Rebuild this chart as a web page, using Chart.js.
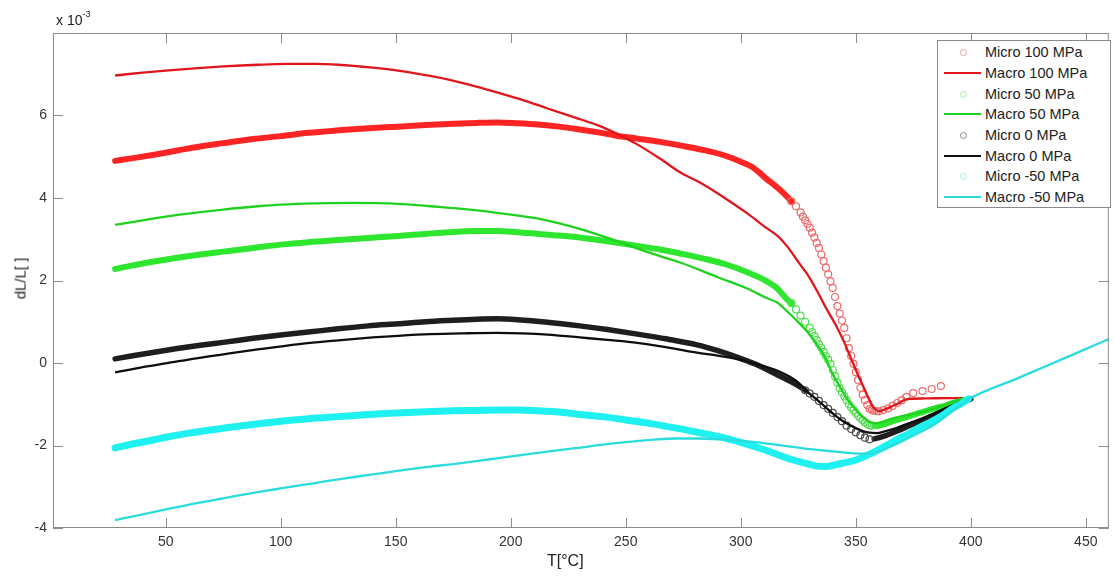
<!DOCTYPE html>
<html>
<head>
<meta charset="utf-8">
<title>dL/L vs T</title>
<script src="https://cdn.jsdelivr.net/npm/chart.js@4/dist/chart.umd.min.js"></script>
<style>
  body { margin: 0; background: #fff; font-family: 'Liberation Sans', Arial, sans-serif; }
  #wrap { position: relative; width: 1114px; height: 577px; }
  .lbl { position: absolute; color: #222; white-space: nowrap; }
  #legend { position: absolute; left: 937px; top: 40px; width: 174px; height: 168px;
            border: 1px solid #8a8a8a; background: #fff; padding-top: 1px; box-sizing: border-box; }
  .row { height: 20.7px; display: flex; align-items: center; font-size: 14.5px; color: #222; }
  .sw { position: relative; width: 43px; height: 20px; flex: none; }
</style>
</head>
<body>
<div id="wrap">
  <canvas id="myChart"></canvas>
  <div class="lbl" style="left:56px; top:11px; font-size:14px;">x 10<sup style="font-size:9px; position:relative; top:-2px;">-3</sup></div>
  <div class="lbl" style="left:547px; top:552px; font-size:16px;">T[°C]</div>
  <div class="lbl" style="left:-12px; top:270px; font-size:15px; transform: rotate(-90deg); width:64px; text-align:center;">dL/L[ ]</div>
  <div id="legend"></div>
</div>
<script>
// eksen ayarlari
const xTickValues = [50, 100, 150, 200, 250, 300, 350, 400, 450];
const yTickValues = [-4, -2, 0, 2, 4, 6];

// Micro 100 MPa
const micro100T = [28, 35, 45, 55, 65, 75, 88, 100, 112, 125, 138, 151, 163, 175, 185, 194, 203, 212, 221, 230,
    238, 246, 255, 265, 274, 284, 293, 300, 305, 308, 311, 314, 316, 318, 320, 322, 324,
    326, 327, 328, 329, 330, 331, 332, 333, 334, 335, 336, 337, 338, 339, 340, 341, 342, 343, 344, 345,
    346, 347, 348, 349, 350, 351, 352, 353, 354, 355, 356, 357, 358, 359, 360, 362, 364, 366, 368, 370,
    372, 375, 379, 383, 387];
const micro100 = [4.9, 4.96, 5.05, 5.15, 5.25, 5.33, 5.43, 5.5, 5.58, 5.64, 5.69, 5.73, 5.77, 5.8, 5.82, 5.83, 5.81, 5.78, 5.73, 5.66,
    5.59, 5.51, 5.44, 5.36, 5.27, 5.16, 5.03, 4.88, 4.75, 4.62, 4.47, 4.34, 4.25, 4.15, 4.04, 3.92, 3.8,
    3.65, 3.55, 3.46, 3.37, 3.28, 3.16, 3.04, 2.91, 2.79, 2.63, 2.47, 2.31, 2.15, 1.98, 1.82, 1.6, 1.38, 1.2, 1.03, 0.85,
    0.6, 0.36, 0.17, -0.02, -0.22, -0.41, -0.6, -0.77, -0.9, -1.02, -1.11, -1.14, -1.16, -1.17, -1.17, -1.14, -1.1, -1.04, -0.97, -0.9,
    -0.82, -0.73, -0.68, -0.63, -0.56];

// Macro 100 MPa
const macro100T = [28, 40, 50, 64, 75, 90, 103, 115, 125, 140, 151, 165, 173, 185, 194, 205, 216, 228, 238, 246,
    255, 265, 274, 283, 293, 303, 311, 316, 320, 325, 330, 334, 337, 341, 345, 348, 352, 355, 358, 360,
    363, 367, 373, 380, 390, 400];
const macro100 = [6.97, 7.04, 7.09, 7.15, 7.19, 7.23, 7.25, 7.25, 7.23, 7.16, 7.09, 6.96, 6.87, 6.7, 6.56, 6.38, 6.17, 5.95, 5.76, 5.56,
    5.3, 4.95, 4.61, 4.35, 4.0, 3.62, 3.28, 3.08, 2.84, 2.45, 2.06, 1.66, 1.34, 0.95, 0.5, 0.1, -0.42, -0.78, -1.1, -1.17,
    -1.12, -1.02, -0.87, -0.86, -0.85, -0.85];

// Micro 50 MPa
const micro50T = [28, 35, 45, 55, 65, 75, 88, 100, 112, 125, 138, 151, 163, 173, 185, 194, 203, 212, 221, 230,
    242, 255, 265, 274, 284, 293, 302, 311, 316, 320, 322, 324, 326, 328, 330, 331, 332, 333, 334, 335,
    336, 337, 338, 339, 340, 341, 342, 343, 344, 345, 346, 347, 348, 349, 350, 351, 352, 353, 354, 355,
    356, 357, 358, 360, 362, 364, 366, 369, 372, 376, 380, 385, 389, 392, 396, 399];
const micro50 = [2.28, 2.36, 2.46, 2.55, 2.63, 2.7, 2.79, 2.87, 2.93, 2.98, 3.03, 3.08, 3.13, 3.17, 3.2, 3.2, 3.17, 3.13, 3.09, 3.04,
    2.95, 2.84, 2.75, 2.65, 2.53, 2.4, 2.22, 1.99, 1.8, 1.55, 1.45, 1.3, 1.15, 1.0, 0.85, 0.75, 0.65, 0.56, 0.46, 0.37,
    0.27, 0.17, 0.08, -0.02, -0.17, -0.32, -0.47, -0.61, -0.71, -0.81, -0.9, -1.0, -1.08, -1.15, -1.21, -1.28, -1.34, -1.39, -1.44, -1.48,
    -1.51, -1.52, -1.53, -1.52, -1.49, -1.45, -1.41, -1.36, -1.31, -1.24, -1.17, -1.09, -1.03, -0.97, -0.92, -0.87];

// Macro 50 MPa
const macro50T = [28, 40, 50, 64, 75, 90, 100, 115, 130, 151, 165, 180, 194, 212, 230, 248, 260, 274, 290, 303,
    311, 316, 320, 324.5, 329, 333, 337, 340, 343, 346, 349, 352, 355, 358, 362, 366, 373, 380, 387, 393, 400];
const macro50 = [3.35, 3.46, 3.55, 3.65, 3.72, 3.8, 3.84, 3.87, 3.88, 3.86, 3.8, 3.73, 3.64, 3.5, 3.25, 2.92, 2.68, 2.43, 2.08, 1.8,
    1.58, 1.46, 1.26, 1.02, 0.75, 0.46, 0.1, -0.27, -0.57, -0.85, -1.07, -1.26, -1.39, -1.46, -1.42, -1.34, -1.26, -1.17, -1.05, -0.92, -0.85];

// Micro 0 MPa
const micro0T = [28, 35, 45, 55, 65, 75, 88, 100, 112, 125, 138, 151, 163, 173, 185, 194, 203, 216, 230, 242,
    255, 268, 281, 290, 298, 306, 316, 324, 328, 330, 332, 334, 336, 338, 340, 342, 344, 346, 348, 350,
    352, 354, 356, 358, 362, 368, 374, 380, 386, 391, 396, 400];
const micro0 = [0.1, 0.17, 0.26, 0.35, 0.43, 0.5, 0.6, 0.68, 0.75, 0.83, 0.9, 0.95, 1.0, 1.03, 1.06, 1.07, 1.05, 0.99, 0.9, 0.81,
    0.7, 0.58, 0.44, 0.3, 0.15, -0.02, -0.29, -0.52, -0.66, -0.74, -0.82, -0.92, -1.02, -1.11, -1.21, -1.31, -1.41, -1.52, -1.6, -1.68,
    -1.75, -1.81, -1.85, -1.84, -1.78, -1.65, -1.5, -1.36, -1.21, -1.09, -0.97, -0.87];

// Macro 0 MPa
const macro0T = [28, 40, 50, 64, 75, 90, 108, 125, 140, 151, 165, 180, 194, 205, 216, 230, 242, 255, 268, 281,
    290, 298, 307, 316, 324, 330, 333, 337, 341, 345, 349, 353, 356, 359, 363, 368, 373, 380, 387, 393, 400];
const macro0 = [-0.23, -0.1, -0.01, 0.12, 0.21, 0.33, 0.46, 0.55, 0.62, 0.66, 0.7, 0.72, 0.73, 0.72, 0.69, 0.62, 0.56, 0.49, 0.38, 0.25,
    0.18, 0.1, -0.03, -0.19, -0.43, -0.75, -0.88, -1.08, -1.27, -1.43, -1.55, -1.65, -1.69, -1.7, -1.65, -1.57, -1.46, -1.32, -1.15, -1.0, -0.85];

// Micro -50 MPa
const microM50T = [28, 35, 45, 50, 60, 75, 88, 100, 112, 125, 138, 150, 163, 175, 185, 194, 203, 212, 221, 229,
    240, 250, 261, 272, 281, 290, 301, 308, 315, 322, 328, 333, 337, 341, 345, 349, 352, 356, 360, 364,
    368, 372, 376, 380, 385, 389, 392, 396, 399];
const microM50 = [-2.06, -1.97, -1.86, -1.8, -1.7, -1.58, -1.49, -1.41, -1.35, -1.3, -1.25, -1.21, -1.18, -1.16, -1.15, -1.14, -1.14, -1.16, -1.19, -1.24,
    -1.3, -1.38, -1.47, -1.58, -1.68, -1.78, -1.94, -2.06, -2.2, -2.34, -2.43, -2.5, -2.51, -2.47, -2.42, -2.37, -2.31, -2.21, -2.1, -1.98,
    -1.85, -1.74, -1.62, -1.5, -1.36, -1.22, -1.1, -0.98, -0.87];

// Macro -50 MPa
const macroM50T = [28, 40, 50, 64, 75, 90, 100, 115, 125, 140, 150, 165, 175, 185, 194, 210, 229, 240, 250, 262,
    272, 282, 290, 301, 315, 325, 330, 340, 349, 355, 360, 365, 370, 375, 380, 385, 390, 395, 400, 420,
    440, 460];
const macroM50 = [-3.81, -3.67, -3.55, -3.39, -3.28, -3.13, -3.04, -2.91, -2.82, -2.7, -2.62, -2.51, -2.45, -2.38, -2.31, -2.19, -2.06, -1.98, -1.92, -1.86,
    -1.83, -1.83, -1.85, -1.89, -1.98, -2.05, -2.09, -2.14, -2.19, -2.2, -2.15, -2.03, -1.9, -1.76, -1.62, -1.46, -1.25, -1.05, -0.85, -0.38,
    0.1, 0.58];

const axisColor = '#8c8c8c';

function toPoints(ts, vs) {
    return ts.map((t, i) => ({ x: t, y: vs[i] }));
}

function inDots(ds, t) {
    return t >= ds.dots[0] && t <= ds.dots[1];
}

// micro seriler: duz kisimda kalin bant, dik kisimda tek tek halkalar
function microSet(label, ts, vs, band, ring, legendRing, dots, width) {
    return {
        label: label,
        data: toPoints(ts, vs),
        borderColor: band,
        borderWidth: width,
        legendColor: legendRing,
        isMicro: true,
        dots: dots,
        pointStyle: 'circle',
        pointBorderColor: ring,
        pointBackgroundColor: 'rgba(0,0,0,0)',
        pointBorderWidth: 1.2,
        pointRadius: ctx => (ctx.raw && inDots(ctx.dataset, ctx.raw.x)) ? 3.5 : 0,
        borderCapStyle: 'round',
        borderJoinStyle: 'round',
        cubicInterpolationMode: 'monotone',
        segment: {
            borderColor: ctx => inDots(ctx.chart.data.datasets[ctx.datasetIndex], ctx.p0.parsed.x) ? 'rgba(0,0,0,0)' : undefined
        }
    };
}

function macroSet(label, ts, vs, color) {
    return {
        label: label,
        data: toPoints(ts, vs),
        borderColor: color,
        legendColor: color,
        borderWidth: 2.3,
        pointRadius: 0,
        cubicInterpolationMode: 'monotone'
    };
}

const datasets = [
    microSet('Micro 100 MPa', micro100T, micro100, '#ff2424', '#f06a6a', '#eda0a0', [321, 400], 6),
    macroSet('Macro 100 MPa', macro100T, macro100, '#e0161c'),
    microSet('Micro 50 MPa', micro50T, micro50, '#2fe62f', '#55de55', '#a6eaa6', [321, 357], 6),
    macroSet('Macro 50 MPa', macro50T, macro50, '#1fd21f'),
    microSet('Micro 0 MPa', micro0T, micro0, '#1e1e1e', '#4a4a4a', '#8a8a8a', [327, 356], 5.5),
    macroSet('Macro 0 MPa', macro0T, macro0, '#0e0e0e'),
    microSet('Micro -50 MPa', microM50T, microM50, '#1ff0f0', '#40e6e6', '#a8eeee', [999, 999], 7),
    macroSet('Macro -50 MPa', macroM50T, macroM50, '#2adcdc')
];
// sonraki seri ustte cizilsin
datasets.forEach((ds, i) => { ds.order = datasets.length - i; });

// ic tarafa bakan tickler ve cerceve
const frameTicks = {
    id: 'frameTicks',
    afterDatasetsDraw(chart) {
        const { ctx, chartArea: a, scales: { x, y } } = chart;
        ctx.save();
        ctx.strokeStyle = axisColor;
        ctx.lineWidth = 1;
        ctx.strokeRect(a.left + 0.5, a.top + 0.5, a.right - a.left - 1, a.bottom - a.top - 1);
        ctx.beginPath();
        x.ticks.forEach(t => {
            const px = Math.round(x.getPixelForValue(t.value)) + 0.5;
            ctx.moveTo(px, a.bottom); ctx.lineTo(px, a.bottom - 10);
            ctx.moveTo(px, a.top); ctx.lineTo(px, a.top + 10);
        });
        y.ticks.forEach(t => {
            const py = Math.round(y.getPixelForValue(t.value)) + 0.5;
            ctx.moveTo(a.left, py); ctx.lineTo(a.left + 10, py);
            ctx.moveTo(a.right, py); ctx.lineTo(a.right - 10, py);
        });
        ctx.stroke();
        ctx.restore();
    }
};

const tickFont = { family: "'Liberation Sans', Arial, sans-serif", size: 14 };

const myChart = new Chart(document.getElementById('myChart'), {
    type: 'scatter',
    data: { datasets: datasets.map(ds => Object.assign({ showLine: true }, ds)) },
    options: {
        responsive: true,
        maintainAspectRatio: false,
        animation: false,
        events: [],
        layout: { padding: { top: 33, right: 1, left: 0, bottom: 0 } },
        plugins: { legend: { display: false }, tooltip: { enabled: false } },
        scales: {
            x: {
                type: 'linear',
                min: 1,
                max: 460,
                afterBuildTicks: s => { s.ticks = xTickValues.map(v => ({ value: v })); },
                afterFit: s => { s.height = 49; },
                grid: { display: false, drawTicks: false },
                border: { display: false },
                ticks: { font: tickFont, color: '#333', padding: 6 }
            },
            y: {
                type: 'linear',
                min: -4,
                max: 8,
                afterBuildTicks: s => { s.ticks = yTickValues.map(v => ({ value: v })); },
                afterFit: s => { s.width = 53; },
                grid: { display: false, drawTicks: false },
                border: { display: false },
                ticks: { font: tickFont, color: '#333', padding: 6 }
            }
        }
    },
    plugins: [frameTicks]
});

// legend kutusu
const legendBox = document.getElementById('legend');
datasets.forEach(ds => {
    const row = document.createElement('div');
    row.className = 'row';
    const sw = document.createElement('span');
    sw.className = 'sw';
    const mark = document.createElement('span');
    if (ds.isMicro) {
        mark.style.cssText = `position:absolute; left:22px; top:7px; width:5px; height:5px; border-radius:50%; border:1px solid ${ds.legendColor};`;
    } else {
        mark.style.cssText = `position:absolute; left:6px; top:9px; width:37px; height:2px; background:${ds.legendColor};`;
    }
    sw.appendChild(mark);
    const txt = document.createElement('span');
    txt.textContent = ds.label;
    txt.style.marginLeft = '4px';
    row.appendChild(sw);
    row.appendChild(txt);
    legendBox.appendChild(row);
});
</script>
</body>
</html>
